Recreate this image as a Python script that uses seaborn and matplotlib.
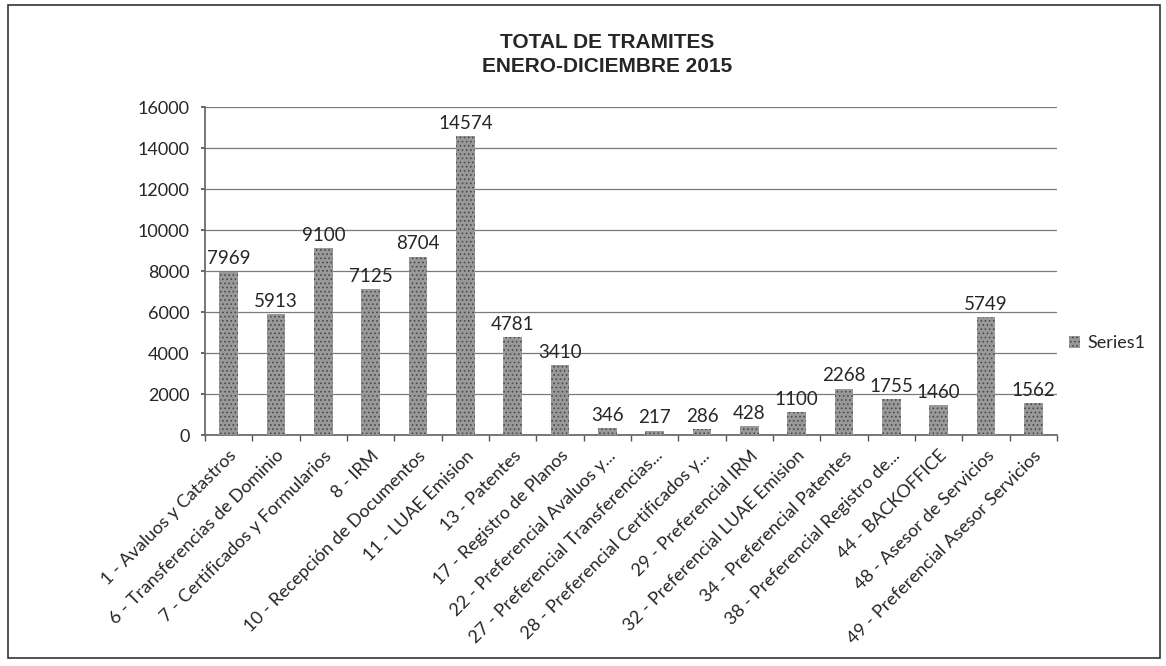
import pandas as pd
import seaborn as sns
import matplotlib.pyplot as plt
from matplotlib.patches import Rectangle
from matplotlib.ticker import FixedLocator

tramites = [
    "1 - Avaluos y Catastros",
    "6 - Transferencias de Dominio",
    "7 - Certificados y Formularios",
    "8 - IRM",
    "10 - Recepción de Documentos",
    "11 - LUAE Emision",
    "13 - Patentes",
    "17 - Registro de Planos",
    "22 - Preferencial Avaluos y...",
    "27 - Preferencial Transferencias...",
    "28 - Preferencial Certificados y...",
    "29 - Preferencial IRM",
    "32 - Preferencial LUAE Emision",
    "34 - Preferencial Patentes",
    "38 - Preferencial Registro de...",
    "44 - BACKOFFICE",
    "48 - Asesor de Servicios",
    "49 - Preferencial Asesor Servicios",
]
totales = [7969, 5913, 9100, 7125, 8704, 14574, 4781, 3410, 346, 217,
           286, 428, 1100, 2268, 1755, 1460, 5749, 1562]
y_ticks = [0, 2000, 4000, 6000, 8000, 10000, 12000, 14000, 16000]

sns.set_theme(style="white")
plt.rcParams["font.family"] = ["Lato", "DejaVu Sans"]
plt.rcParams["hatch.linewidth"] = 0.7

df = pd.DataFrame({"tramite": tramites, "total": totales})

fig = plt.figure(figsize=(11.66, 6.66), dpi=100)
ax = fig.add_axes([0.1758, 0.3468, 0.7307, 0.4925])

sns.barplot(data=df, x="tramite", y="total", color="#999999", width=0.4,
            edgecolor="#4a4a4a", linewidth=0, hatch="....", label="Series1",
            ax=ax, zorder=3)

ax.set_ylim(0, 16000)
ax.set_xlim(-0.5, len(tramites) - 0.5)
ax.set_yticks(y_ticks)
ax.set_yticklabels([str(v) for v in y_ticks], fontsize=13)
ax.yaxis.grid(True, color="#7a7a7a", linewidth=0.9)
ax.set_axisbelow(True)

ax.set_xticks(range(len(tramites)))
ax.set_xticklabels(tramites, rotation=45, ha="right", rotation_mode="anchor",
                   fontsize=13)
ax.tick_params(axis="x", length=0, pad=9)
ax.xaxis.set_minor_locator(FixedLocator([i - 0.5 for i in range(len(tramites) + 1)]))
ax.tick_params(axis="x", which="minor", bottom=True, length=4, color="#555555")
ax.tick_params(axis="y", left=True, length=3, color="#555555", pad=8)

for s in ["top", "right"]:
    ax.spines[s].set_visible(False)
ax.spines["left"].set_color("#666666")
ax.spines["bottom"].set_color("#666666")

ax.bar_label(ax.containers[0], labels=[str(v) for v in totales],
             padding=3, fontsize=13.5)

ax.set_xlabel("")
ax.set_ylabel("")

fig.text(0.521, 0.918, "TOTAL DE TRAMITES\nENERO-DICIEMBRE 2015",
         ha="center", va="center", fontsize=15, fontweight="bold",
         family=["Liberation Sans Narrow", "Liberation Sans", "DejaVu Sans"],
         linespacing=1.3)

ax.legend(loc="center left", bbox_to_anchor=(0.995, 0.28), frameon=False,
          fontsize=13, handlelength=0.6, handleheight=0.6, handletextpad=0.4)

fig.patches.append(Rectangle((0.007, 0.012), 0.988, 0.98, transform=fig.transFigure,
                             fill=False, edgecolor="#333333", linewidth=1.2))

fig.savefig("out.png", dpi=100)
